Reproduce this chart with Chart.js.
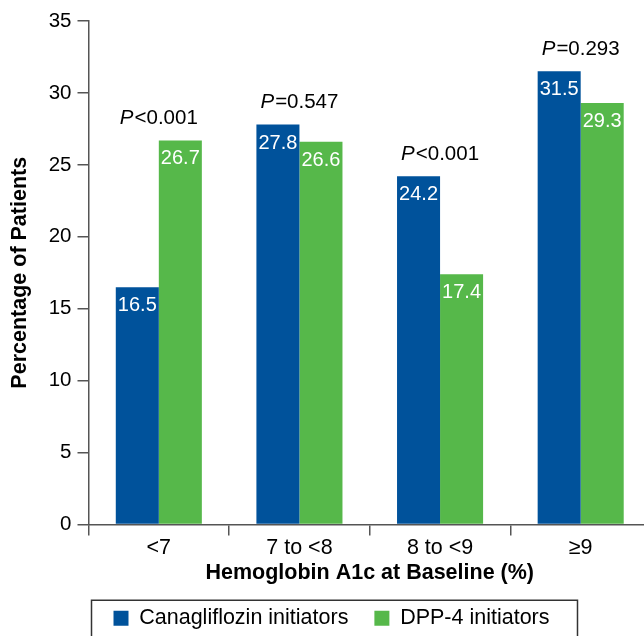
<!DOCTYPE html>
<html>
<head>
<meta charset="utf-8">
<script src="https://cdn.jsdelivr.net/npm/chart.js@4/dist/chart.umd.min.js"></script>
<style>
  html, body { margin: 0; padding: 0; background: #fff; overflow: hidden; }
  #wrap { width: 652px; height: 639px; }
</style>
</head>
<body>
<div id="wrap"><canvas id="grafica"></canvas></div>
<script>
const categorias = ['<7', '7 to <8', '8 to <9', '\u22659'];
const canagliflozin = [16.5, 27.8, 24.2, 31.5];
const dpp4 = [26.7, 26.6, 17.4, 29.3];
const pValores = ['<0.001', '=0.547', '<0.001', '=0.293'];
const ticksY = [0, 5, 10, 15, 20, 25, 30, 35];

const AZUL = '#00529b';
const VERDE = '#56b84a';
const GRIS = '#555555';
const FUENTE = "'Liberation Sans', Arial, Helvetica, sans-serif";

// etiquetas blancas dentro de las barras + valores P encima de cada grupo
const etiquetas = {
    id: 'etiquetas',
    afterDatasetsDraw(chart) {
        const ctx = chart.ctx;
        ctx.save();
        ctx.font = '20px ' + FUENTE;
        ctx.fillStyle = '#fff';
        ctx.textAlign = 'center';
        ctx.textBaseline = 'middle';
        chart.data.datasets.forEach((ds, i) => {
            chart.getDatasetMeta(i).data.forEach((bar, j) => {
                ctx.fillText(ds.data[j].toFixed(1), bar.x, bar.y + 18.5);
            });
        });

        const yScale = chart.scales.y;
        ctx.fillStyle = '#000';
        ctx.textAlign = 'left';
        pValores.forEach((p, j) => {
            const tope = yScale.getPixelForValue(Math.max(canagliflozin[j], dpp4[j]));
            const m0 = chart.getDatasetMeta(0).data[j];
            const m1 = chart.getDatasetMeta(1).data[j];
            const cx = (m0.x + m1.x) / 2;
            const y = tope - 22;
            ctx.font = 'italic 20.5px ' + FUENTE;
            const wP = ctx.measureText('P').width;
            ctx.font = '20.5px ' + FUENTE;
            const wR = ctx.measureText(p).width;
            const x0 = cx - (wP + 1 + wR) / 2;
            ctx.font = 'italic 20.5px ' + FUENTE;
            ctx.fillText('P', x0, y);
            ctx.font = '20.5px ' + FUENTE;
            ctx.fillText(p, x0 + wP + 1, y);
        });
        ctx.restore();
    },
    afterDraw(chart) {
        // marco de la leyenda
        const leg = chart.legend;
        if (!leg || !leg.legendHitBoxes.length) return;
        const cajas = leg.legendHitBoxes;
        const ult = cajas[cajas.length - 1];
        const izq = cajas[0].left - 22;
        const der = ult.left + ult.width + 28;
        const arriba = cajas[0].top + cajas[0].height / 2 - 18;
        const ctx = chart.ctx;
        ctx.save();
        ctx.strokeStyle = '#333';
        ctx.lineWidth = 1.5;
        ctx.strokeRect(izq, arriba, der - izq, 60);
        ctx.restore();
    }
};

const ctx = document.getElementById('grafica').getContext('2d');
const myChart = new Chart(ctx, {
    type: 'bar',
    data: {
        labels: categorias,
        datasets: [{
            label: 'Canagliflozin initiators',
            data: canagliflozin,
            backgroundColor: AZUL,
            borderWidth: 0
        }, {
            label: 'DPP-4 initiators',
            data: dpp4,
            backgroundColor: VERDE,
            borderWidth: 0
        }]
    },
    options: {
        responsive: true,
        maintainAspectRatio: false,
        animation: false,
        layout: { padding: { top: 21, left: 12, right: 1, bottom: 0 } },
        datasets: { bar: { categoryPercentage: 0.612, barPercentage: 1 } },
        scales: {
            x: {
                afterFit: scale => { scale.height = 57; },
                grid: { display: true, offset: true, drawOnChartArea: false, tickLength: 11, color: GRIS, lineWidth: 1.5 },
                border: { color: GRIS, width: 1.5 },
                ticks: { color: '#000', font: { size: 21.5, family: FUENTE }, padding: 0 },
                title: {
                    display: true,
                    text: 'Hemoglobin A1c at Baseline (%)',
                    color: '#000',
                    font: { size: 21.5, weight: 'bold', family: FUENTE },
                    padding: { top: 0, bottom: -4.5 }
                }
            },
            y: {
                min: 0,
                max: 35,
                afterBuildTicks: scale => { scale.ticks = ticksY.map(v => ({ value: v })); },
                afterFit: scale => { scale.width = 76.5; },
                grid: { drawOnChartArea: false, tickLength: 11, color: GRIS, lineWidth: 1.5 },
                border: { color: GRIS, width: 1.5 },
                ticks: { color: '#000', font: { size: 20.5, family: FUENTE }, padding: 6 },
                title: {
                    display: true,
                    text: 'Percentage of Patients',
                    color: '#000',
                    font: { size: 21.5, weight: 'bold', family: FUENTE },
                    padding: { top: -5, bottom: 0 }
                }
            }
        },
        plugins: {
            legend: {
                position: 'bottom',
                labels: {
                    color: '#000',
                    font: { size: 21.5, family: FUENTE },
                    boxWidth: 15,
                    boxHeight: 15,
                    padding: 26
                }
            },
            tooltip: { enabled: false }
        }
    },
    plugins: [etiquetas]
});
</script>
</body>
</html>
